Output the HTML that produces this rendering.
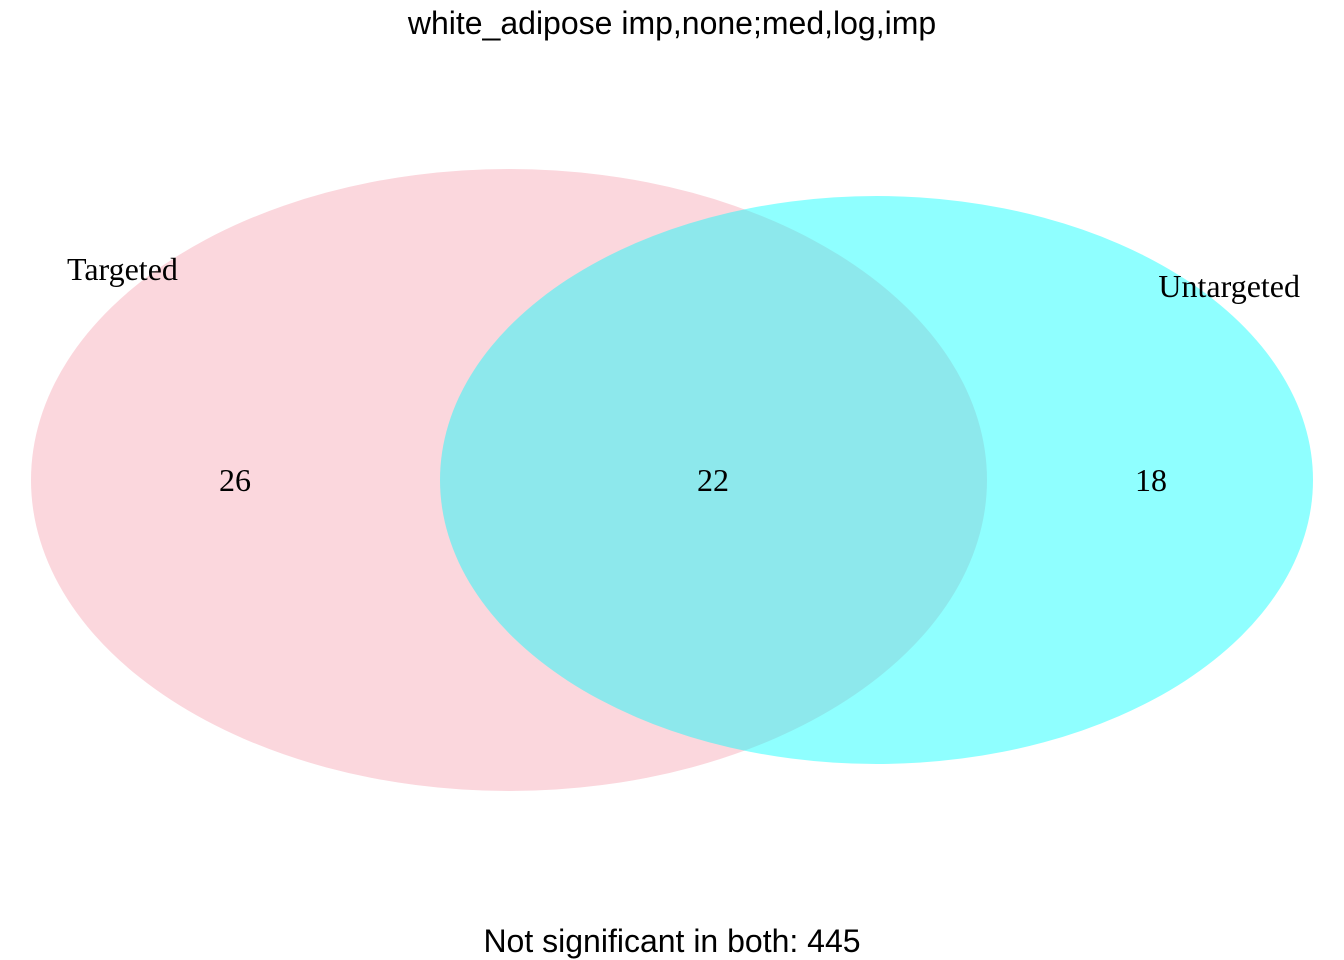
<!DOCTYPE html>
<html><head><meta charset="utf-8"><style>
html,body{margin:0;padding:0;background:#fff;}
svg{display:block;}
</style></head><body>
<svg id="chart" width="1344" height="960" viewBox="0 0 1344 960" xmlns="http://www.w3.org/2000/svg">
<rect width="1344" height="960" fill="#fff"/>
<text x="672" y="34" text-anchor="middle" font-family="Liberation Sans, sans-serif" font-size="32" fill="#000">white_adipose imp,none;med,log,imp</text>
<g id="sets"></g>
<text x="672" y="952" text-anchor="middle" font-family="Liberation Sans, sans-serif" font-size="32" fill="#000">Not significant in both: 445</text>
</svg>
<script>
const setNames = ["Targeted", "Untargeted"];
const regionCounts = [26, 22, 18];
const notSignificant = 445;

const NS = "http://www.w3.org/2000/svg";
const g = document.getElementById("sets");
function mk(tag, attrs){const e=document.createElementNS(NS,tag);for(const k in attrs)e.setAttribute(k,attrs[k]);return e;}

const e1 = mk("ellipse",{cx:509,cy:480,rx:478,ry:311,fill:"#fbd7dd"});


g.appendChild(e1);
const e2 = mk("ellipse",{cx:876.5,cy:480,rx:436.5,ry:284,fill:"#00ffff","fill-opacity":0.44});


g.appendChild(e2);

const labelPos = [[67,280,"start"],[1300,297,"end"]];
setNames.forEach((n,i)=>{
  const t = mk("text",{x:labelPos[i][0],y:labelPos[i][1],"text-anchor":labelPos[i][2],"font-family":"Liberation Serif, serif","font-size":32,fill:"#000"});
  t.textContent = n;
  
  
  g.appendChild(t);
});
const countX = [235,713,1151];
regionCounts.forEach((c,i)=>{
  const t = mk("text",{x:countX[i],y:491,"text-anchor":"middle","font-family":"Liberation Serif, serif","font-size":32,fill:"#000"});
  t.textContent = c;
  
  
  g.appendChild(t);
});
</script>
</body></html>
